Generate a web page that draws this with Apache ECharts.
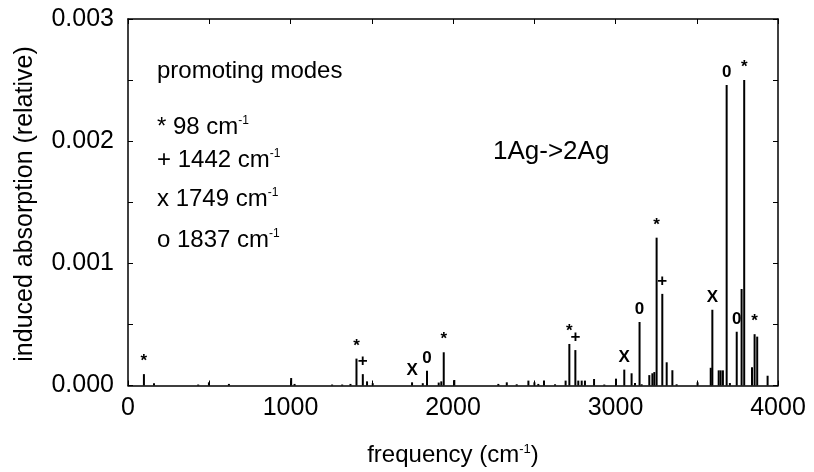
<!DOCTYPE html>
<html>
<head>
<meta charset="utf-8">
<script src="https://cdn.jsdelivr.net/npm/echarts@6/dist/echarts.min.js"></script>
<style>
  html, body { margin: 0; padding: 0; background: #fff; }
  #chart { width: 814px; height: 472px; }
</style>
</head>
<body>
<div id="chart"></div>
<script>
// stick spectrum: frequency (cm-1) and induced absorption
const freqs = [
  98, 160, 432, 498, 621, 1004, 1025, 1256, 1318, 1369,
  1406, 1445, 1471, 1506, 1748, 1814, 1840, 1912, 1928, 1943,
  2008, 2279, 2331, 2392, 2464, 2501, 2525, 2560, 2628, 2693,
  2716, 2753, 2771, 2792, 2812, 2868, 2931, 3003, 3054, 3099,
  3120, 3148, 3161, 3208, 3227, 3239, 3253, 3288, 3315, 3350,
  3376, 3505, 3586, 3596, 3635, 3647, 3661, 3684, 3704, 3746,
  3776, 3792, 3840, 3856, 3872, 3936
];
const intensities = [
  0.000093, 0.000019, 0.000008, 0.000026, 0.000013, 0.000061, 0.000013, 0.000008, 0.000008, 0.000013,
  0.00022, 0.000093, 0.000034, 0.000019, 0.000026, 0.000019, 0.00012, 0.000024, 0.000034, 0.000272,
  0.000045, 0.000013, 0.000026, 0.00001, 0.00004, 0.000026, 0.000013, 0.00004, 0.00001, 0.00004,
  0.00034, 0.00029, 0.00004, 0.00004, 0.00004, 0.000053, 0.000008, 0.000056, 0.00013, 0.0001,
  0.00002, 0.00052, 0.00001, 0.000085, 0.0001, 0.00011, 0.00121, 0.00075, 0.00019, 0.000125,
  0.00001, 0.000026, 0.000145, 0.00062, 0.000124, 0.000124, 0.000124, 0.00246, 0.00002, 0.00044,
  0.00079, 0.0025, 0.00015, 0.00042, 0.0004, 0.00008
];

// promoting-mode markers drawn above some sticks
const markFreqs = [98, 1406, 1445, 1748, 1840, 1943, 2716, 2753, 3054, 3148, 3253, 3288, 3596, 3684, 3746, 3792, 3856];
const markSymbols = ['*', '*', '+', 'X', '0', '*', '*', '+', 'X', '0', '*', '+', 'X', '0', '0', '*', '*'];

const xTicks = [0, 1000, 2000, 3000, 4000];
const yTicks = [0, 0.001, 0.002, 0.003];

const legendLines = [
  ['* 98 cm', 115],
  ['+ 1442 cm', 148],
  ['x 1749 cm', 187],
  ['o 1837 cm', 228]
];

const font = 'Liberation Sans';

let stickData = freqs.map((f, i) => {
  let k = markFreqs.indexOf(f);
  let item = { value: [f, intensities[i]] };
  if (k >= 0) {
    item.label = { show: true, formatter: markSymbols[k] };
  }
  return item;
});

let myChart = echarts.init(document.getElementById('chart'), null, { renderer: 'canvas' });

let axisCommon = {
  type: 'value',
  axisLine: { show: true, onZero: false, lineStyle: { color: '#000', width: 1.5 } },
  axisTick: { show: true, inside: true, length: 5, lineStyle: { color: '#000', width: 1 } },
  minorTick: { show: true, splitNumber: 2, length: 5, lineStyle: { color: '#000', width: 1 } },
  splitLine: { show: false }
};

let supRich = {
  a: { fontSize: 24, fontFamily: font, color: '#000' },
  s: { fontSize: 13, fontFamily: font, color: '#000', verticalAlign: 'top', padding: [0, 0, 12, 0] }
};

let option = {
  animation: false,
  backgroundColor: '#fff',
  grid: { left: 128, right: 36, top: 19, bottom: 77 },
  xAxis: [
    Object.assign({}, axisCommon, {
      position: 'bottom',
      min: xTicks[0],
      max: xTicks[xTicks.length - 1],
      interval: 1000,
      axisLabel: { color: '#000', fontSize: 25, fontFamily: font, margin: 10, formatter: (v) => String(v) },
      name: '{a|frequency (cm}{s|-1}{a|)}',
      nameLocation: 'middle',
      nameGap: 57,
      nameTextStyle: { rich: supRich }
    }),
    Object.assign({}, axisCommon, {
      position: 'top',
      min: xTicks[0],
      max: xTicks[xTicks.length - 1],
      interval: 1000,
      axisLabel: { show: false }
    })
  ],
  yAxis: [
    Object.assign({}, axisCommon, {
      position: 'left',
      min: yTicks[0],
      max: yTicks[yTicks.length - 1],
      interval: 0.001,
      axisLabel: {
        color: '#000', fontSize: 25, fontFamily: font, margin: 14,
        formatter: (v) => v.toFixed(3)
      }
    }),
    Object.assign({}, axisCommon, {
      position: 'right',
      min: yTicks[0],
      max: yTicks[yTicks.length - 1],
      interval: 0.001,
      axisLabel: { show: false }
    })
  ],
  series: [
    {
      type: 'bar',
      xAxisIndex: 0,
      yAxisIndex: 0,
      barWidth: 2,
      itemStyle: { color: '#000' },
      label: {
        position: 'top',
        distance: 4,
        color: '#000',
        fontSize: 17,
        fontWeight: 'bold',
        fontFamily: font
      },
      data: stickData
    }
  ],
  graphic: [
    {
      // y axis title, rotated
      type: 'text', x: 25, y: 204, rotation: Math.PI / 2,
      style: {
        text: 'induced absorption (relative)', fontSize: 25, fontFamily: font, fill: '#000',
        align: 'center', verticalAlign: 'middle'
      }
    },
    {
      type: 'text', left: 157, top: 59,
      style: { text: 'promoting modes', fontSize: 24, fontFamily: font, fill: '#000' }
    },
    {
      type: 'text', left: 493, top: 139,
      style: { text: '1Ag->2Ag', fontSize: 26, fontFamily: font, fill: '#000' }
    }
  ].concat(legendLines.map((l) => ({
    type: 'text', left: 157, top: l[1],
    style: {
      text: '{a|' + l[0] + '}{s|-1}',
      rich: {
        a: { fontSize: 24, fontFamily: font, fill: '#000' },
        s: { fontSize: 12, fontFamily: font, fill: '#000', verticalAlign: 'top', padding: [0, 0, 12, 0] }
      }
    }
  })))
};

myChart.setOption(option);
</script>
</body>
</html>
